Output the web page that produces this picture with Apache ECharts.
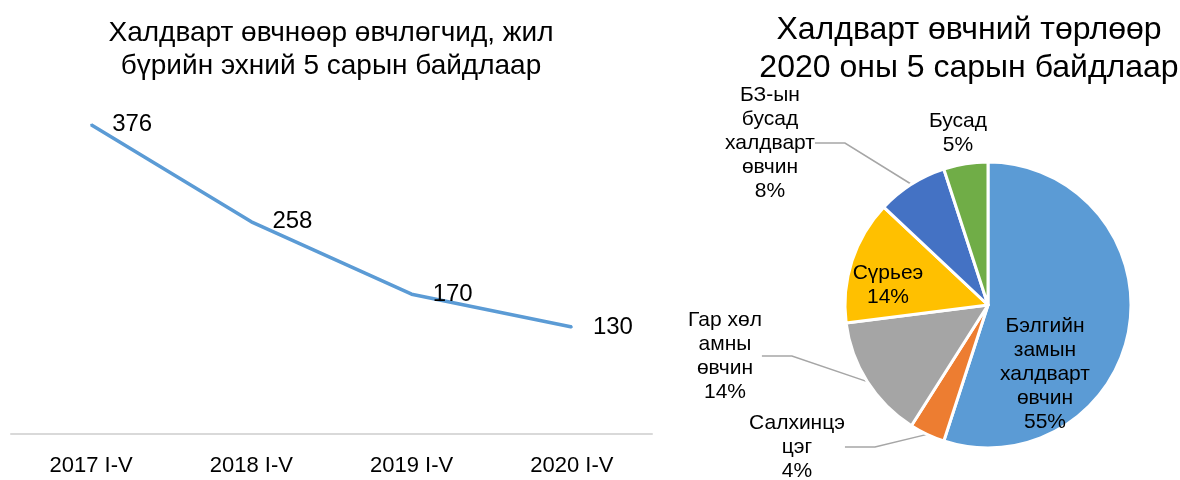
<!DOCTYPE html>
<html>
<head>
<meta charset="utf-8">
<title>Халдварт өвчин</title>
<script src="https://cdn.jsdelivr.net/npm/echarts@6/dist/echarts.min.js"></script>
<style>
  html, body { margin: 0; padding: 0; background: #fff; }
  #chart { width: 1180px; height: 480px; }
</style>
</head>
<body>
<div id="chart"></div>
<script>
  // line chart data
  var years = ['2017 I-V', '2018 I-V', '2019 I-V', '2020 I-V'];
  var patients = [376, 258, 170, 130];

  // pie chart data (2020 I-V, %)
  var diseaseNames = [
    'Бэлгийн\nзамын\nхалдварт\nөвчин',
    'Салхинцэ\nцэг',
    'Гар хөл\nамны\nөвчин',
    'Сүрьеэ',
    'БЗ-ын\nбусад\nхалдварт\nөвчин',
    'Бусад'
  ];
  var diseaseShares = [55, 4, 14, 14, 8, 5];
  var diseaseColors = ['#5B9BD5', '#ED7D31', '#A5A5A5', '#FFC000', '#4472C4', '#70AD47'];

  var font = '"Liberation Sans", Arial, sans-serif';

  // where the pie labels sit (label centre), by data index
  var labelPos = {
    0: [1045, 374],
    1: [797, 447],
    2: [725, 356],
    3: [888, 285],
    4: [770, 143],
    5: [958, 133]
  };

  var pieData = diseaseNames.map(function (n, i) {
    var item = { name: n, value: diseaseShares[i], itemStyle: { color: diseaseColors[i] } };
    if (i == 0 || i == 3) {
      item.label = { position: 'inside' };
      item.labelLine = { show: false };
    }
    if (i == 5) {
      item.labelLine = { show: false };
    }
    return item;
  });

  var myChart = echarts.init(document.getElementById('chart'));
  myChart.setOption({
    animation: false,
    textStyle: { fontFamily: font },
    title: [
      {
        text: 'Халдварт өвчнөөр өвчлөгчид, жил\nбүрийн эхний 5 сарын байдлаар',
        left: 326, top: 12, textAlign: 'center',
        textStyle: { fontFamily: font, fontSize: 28, fontWeight: 'normal', color: '#000', lineHeight: 33 }
      },
      {
        text: 'Халдварт өвчний төрлөөр\n2020 оны 5 сарын байдлаар',
        left: 964, top: 6, textAlign: 'center',
        textStyle: { fontFamily: font, fontSize: 32, fontWeight: 'normal', color: '#000', lineHeight: 38 }
      }
    ],
    grid: { left: 11, top: 105, width: 641, height: 329 },
    xAxis: {
      type: 'category',
      data: years,
      boundaryGap: true,
      axisLine: { lineStyle: { color: '#D9D9D9', width: 2 } },
      axisTick: { show: false },
      axisLabel: { color: '#000', fontSize: 22, margin: 21, fontFamily: font }
    },
    yAxis: {
      type: 'value', min: 0, max: 400, show: false
    },
    series: [
      {
        type: 'line',
        data: patients,
        symbol: 'circle',
        symbolSize: 2,
        itemStyle: { color: '#5B9BD5' },
        lineStyle: { color: '#5B9BD5', width: 3.5 },
        label: {
          show: true, position: 'right', distance: 20,
          fontSize: 24, color: '#000', fontFamily: font
        }
      },
      {
        type: 'pie',
        center: [988, 305],
        radius: 143,
        startAngle: 90,
        clockwise: true,
        data: pieData,
        itemStyle: { borderColor: '#fff', borderWidth: 3 },
        label: {
          show: true,
          formatter: '{b}\n{d}%',
          fontSize: 21, lineHeight: 24, color: '#000', fontFamily: font, align: 'center'
        },
        labelLine: { show: true, length: 20, length2: 30, lineStyle: { color: '#A6A6A6', width: 1.5 } },
        labelLayout: function (params) {
          var p = labelPos[params.dataIndex];
          if (!p) return {};
          return { x: p[0], y: p[1], align: 'center', verticalAlign: 'middle' };
        }
      }
    ]
  });
</script>
</body>
</html>
